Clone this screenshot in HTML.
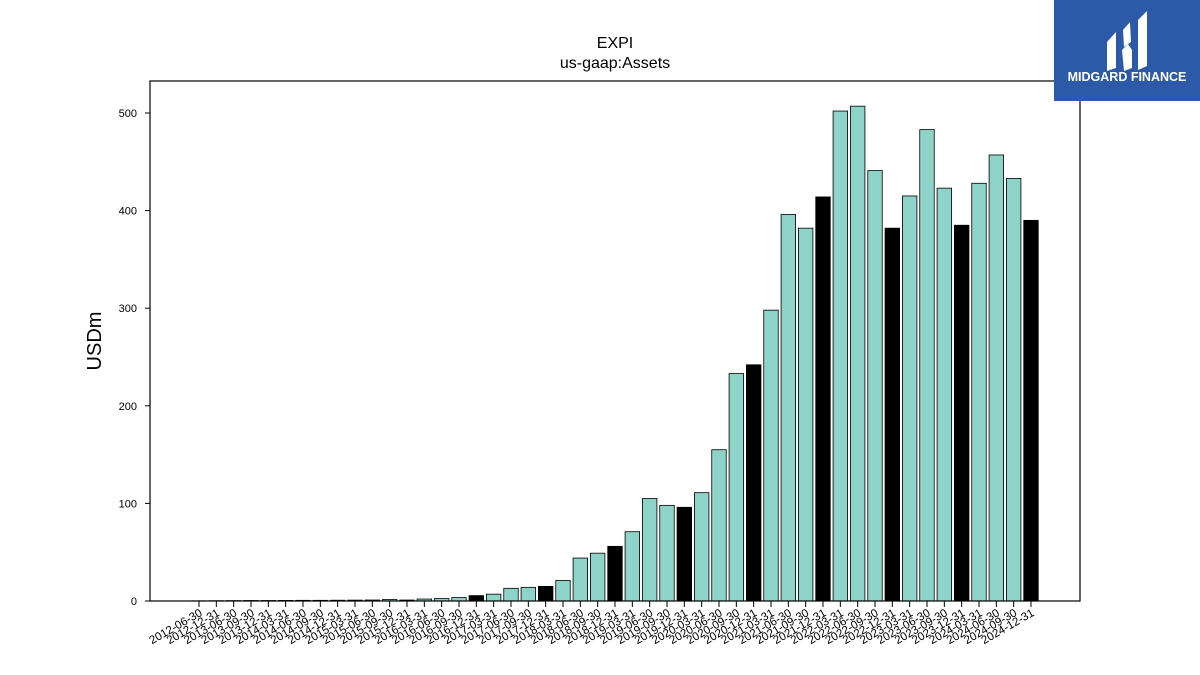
<!DOCTYPE html>
<html><head><meta charset="utf-8"><style>
body{margin:0;background:#fff;}
svg{display:block;font-family:"Liberation Sans","DejaVu Sans",sans-serif;}
</style></head><body>
<svg id="chart" width="1200" height="675" viewBox="0 0 1200 675" xmlns="http://www.w3.org/2000/svg">
<rect width="1200" height="675" fill="#fff"/>
<text x="615" y="48" text-anchor="middle" font-size="16">EXPI</text>
<text x="615" y="68" text-anchor="middle" font-size="16">us-gaap:Assets</text>
<text transform="translate(101,341) rotate(-90)" text-anchor="middle" font-size="20">USDm</text>
<g id="plot"></g>
<rect x="150" y="81" width="930" height="520" fill="none" stroke="#000" stroke-width="1.2"/>
<g>
<rect x="1054" y="0" width="146" height="101" fill="#2c5aa8"/>
<path d="M1107 42 L1116 32 L1116 68 L1107 71 Z" fill="#fff"/>
<path d="M1123 30 L1130 22 L1131 42 L1124 47 Z" fill="#fff"/>
<path d="M1122 50 L1128 44 L1132 50 L1132 68 L1124 71 Z" fill="#fff"/>
<path d="M1138 20 L1147 11 L1147 66 L1138 70 Z" fill="#fff"/>
<text x="1127" y="81" text-anchor="middle" font-size="12.5" font-weight="bold" fill="#fff">MIDGARD FINANCE</text>
</g>
</svg>
<script>
const categories=["2012-06-30","2012-12-31","2013-06-30","2013-09-30","2013-12-31","2014-03-31","2014-06-30","2014-09-30","2014-12-31","2015-03-31","2015-06-30","2015-09-30","2015-12-31","2016-03-31","2016-06-30","2016-09-30","2016-12-31","2017-03-31","2017-06-30","2017-09-30","2017-12-31","2018-03-31","2018-06-30","2018-09-30","2018-12-31","2019-03-31","2019-06-30","2019-09-30","2019-12-31","2020-03-31","2020-06-30","2020-09-30","2020-12-31","2021-03-31","2021-06-30","2021-09-30","2021-12-31","2022-03-31","2022-06-30","2022-09-30","2022-12-31","2023-03-31","2023-06-30","2023-09-30","2023-12-31","2024-03-31","2024-06-30","2024-09-30","2024-12-31"];
const values=[0.2,0.3,0.4,0.5,0.5,0.6,0.7,0.7,0.8,0.9,1.0,1.5,1,2,2.5,3.5,5.5,7,13,14,15,21,44,49,56,71,105,98,96,111,155,233,242,298,396,382,414,502,507,441,382,415,483,423,385,428,457,433,390];
const yTicks=[0,100,200,300,400,500];
const NS="http://www.w3.org/2000/svg";
const g=document.getElementById('plot');
const y0=601,yScale=488/500;
const x0=199,step=(1031-199)/(categories.length-1);
const yPos=v=>y0-v*yScale;
const xPos=i=>x0+i*step;
function mk(t,a){const e=document.createElementNS(NS,t);for(const k in a)e.setAttribute(k,a[k]);g.appendChild(e);return e;}
yTicks.forEach(v=>{
 const l=mk('line',{x1:145,x2:150,y1:yPos(v),y2:yPos(v),stroke:'#000','stroke-width':1});
 
 
 const t=mk('text',{x:137,y:yPos(v)+4,'text-anchor':'end','font-size':11});
 t.textContent=v;
 
 
});
categories.forEach((c,i)=>{
 const x=xPos(i),bw=14.5;
 const black=c.endsWith('12-31');
 const h=values[i]*yScale;
 const b=mk('rect',{x:x-bw/2,y:y0-h,width:bw,height:h,fill:black?'#000':'#8dd3c7',stroke:'#000','stroke-width':0.8});
 
 
 const tk=mk('line',{x1:x,x2:x,y1:601,y2:607,stroke:'#000','stroke-width':1});
 
 
 const t=mk('text',{x:x+4,y:615,'text-anchor':'end','font-size':11.5,transform:`rotate(-30 ${x+4} 615)`});
 t.textContent=c;
 
 
});
</script>
</body></html>
